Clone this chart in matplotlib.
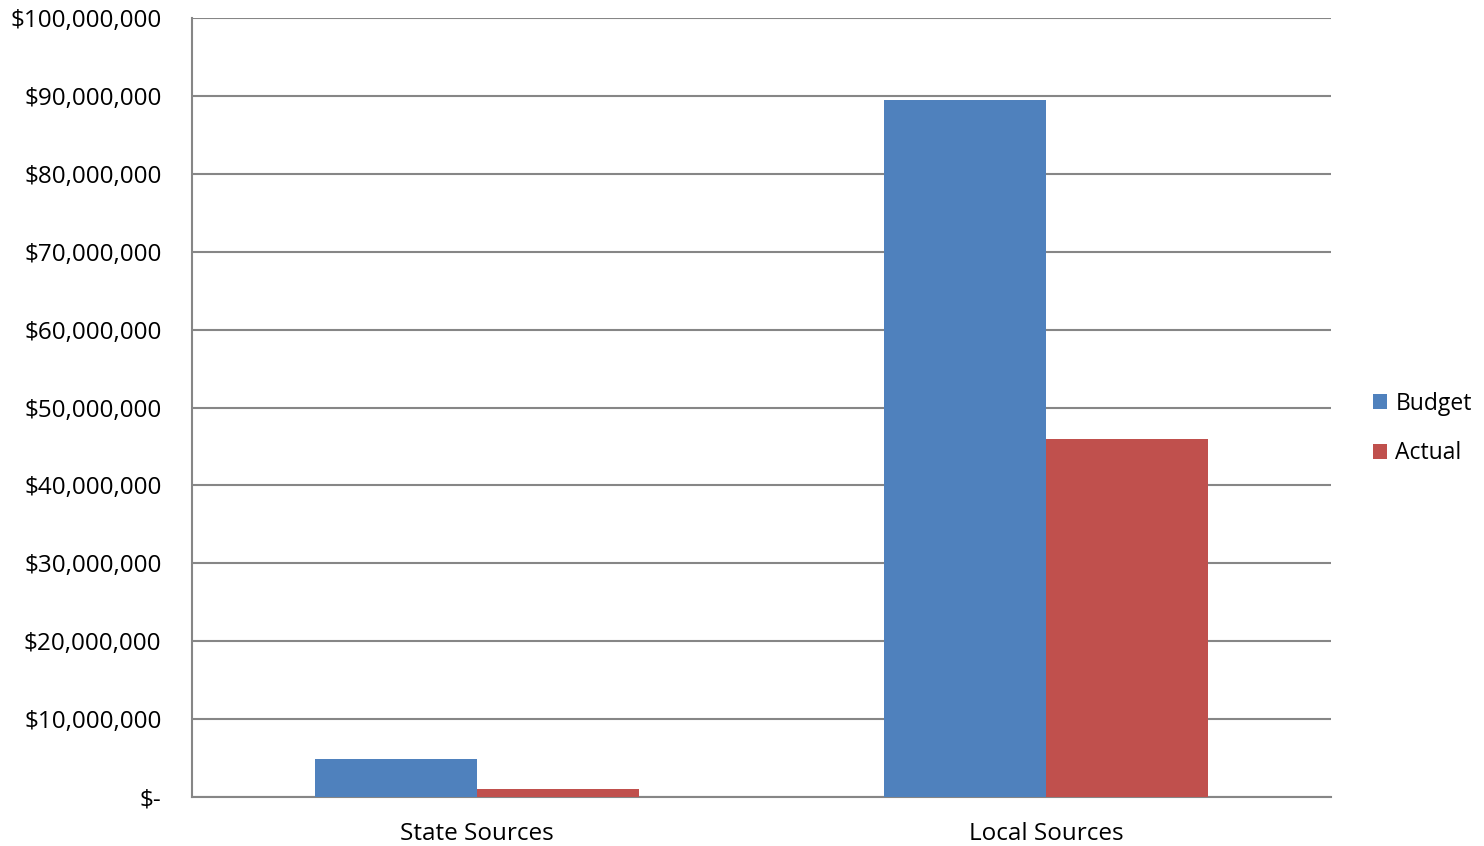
import matplotlib.pyplot as plt
import numpy as np
from matplotlib.ticker import FuncFormatter

categories = ['State Sources', 'Local Sources']
budget = [4900000, 89500000]
actual = [1000000, 46000000]

plt.rcParams['font.family'] = ['Open Sans', 'DejaVu Sans']

fig = plt.figure(figsize=(14.84, 8.46), dpi=100)
ax = fig.add_axes([0.1294, 0.0579, 0.7675, 0.9208])

x = np.arange(len(categories))
w = 0.2845
ax.bar(x - w / 2, budget, width=w, color='#4F81BD', label='Budget', zorder=3)
ax.bar(x + w / 2, actual, width=w, color='#C0504D', label='Actual', zorder=3)

ax.set_xlim(-0.5, 1.5)
ax.set_ylim(0, 100000000)
ax.set_yticks(np.arange(0, 100000001, 10000000))
ax.yaxis.set_major_formatter(FuncFormatter(lambda v, p: '$-' if v == 0 else '${:,.0f}'.format(v)))
ax.set_xticks(x)
ax.set_xticklabels(categories)

ax.grid(axis='y', color='#868686', linewidth=1.5, zorder=0)
ax.tick_params(length=0, labelsize=17.5, colors='black')
ax.tick_params(axis='y', pad=22)
ax.tick_params(axis='x', pad=18)
for lab in ax.get_yticklabels():
    lab.set_horizontalalignment('right')

for s in ['top', 'right']:
    ax.spines[s].set_visible(False)
for s in ['left', 'bottom']:
    ax.spines[s].set_color('#868686')
    ax.spines[s].set_linewidth(1.5)

ax.legend(loc='center left', bbox_to_anchor=(1.027, 0.473), frameon=False,
          fontsize=16.5, handlelength=0.62, handleheight=0.62, handletextpad=0.35,
          labelspacing=1.1, borderpad=0)

fig.savefig('out.png', dpi=100)
